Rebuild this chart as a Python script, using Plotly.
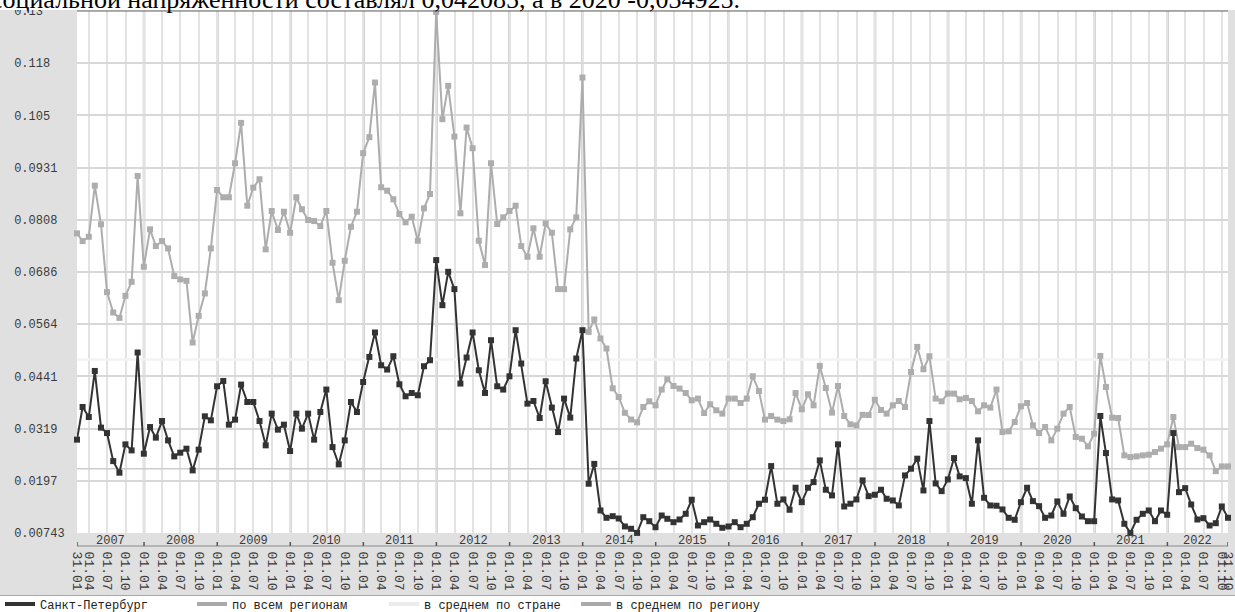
import numpy as np
import pandas as pd
import plotly.graph_objects as go

# ---------------- data ----------------
FIRST_MONTH = "2007-01-01"
N_MONTHS = 190
RANGE_START = "2007-01-31"
RANGE_END = "2022-10-31"
YEARS = list(range(2007, 2023))

SPB = [
    0.02935, 0.03701, 0.03466, 0.04548, 0.03217, 0.0309, 0.02431, 0.02159, 0.02824, 0.02683,
    0.04981, 0.02605, 0.03231, 0.02982, 0.03372, 0.02918, 0.02542, 0.02629, 0.02723, 0.02213,
    0.027, 0.03483, 0.03389, 0.04188, 0.04313, 0.03287, 0.03405, 0.04228, 0.03819, 0.03819,
    0.03372, 0.02801, 0.03546, 0.0317, 0.03287, 0.02667, 0.03546, 0.03193, 0.03546, 0.02935,
    0.03584, 0.04111, 0.0276, 0.02354, 0.02918, 0.03819, 0.03584, 0.04289, 0.04877, 0.05451,
    0.04682, 0.04581, 0.04894, 0.04235, 0.03953, 0.04031, 0.03977, 0.04659, 0.048, 0.07151,
    0.06093, 0.06876, 0.06469, 0.04252, 0.04863, 0.05451, 0.04564, 0.04031, 0.0527, 0.04188,
    0.04111, 0.04423, 0.05505, 0.04722, 0.03781, 0.03842, 0.03443, 0.04306, 0.03687, 0.03113,
    0.03899, 0.03452, 0.0484, 0.05505, 0.019, 0.02366, 0.01272, 0.011, 0.01138, 0.01084,
    0.00896, 0.00842, 0.00745, 0.01114, 0.0102, 0.00879, 0.01154, 0.01077, 0.00997, 0.0106,
    0.01194, 0.01524, 0.00919, 0.00997, 0.0106, 0.00959, 0.00865, 0.00896, 0.00997, 0.00879,
    0.00959, 0.01114, 0.0143, 0.01524, 0.02314, 0.0143, 0.01531, 0.01289, 0.01806, 0.01467,
    0.01806, 0.01938, 0.02448, 0.01759, 0.01625, 0.02824, 0.01366, 0.0143, 0.01531, 0.01978,
    0.01608, 0.01641, 0.01759, 0.01547, 0.01507, 0.0139, 0.02095, 0.02253, 0.02488, 0.01742,
    0.03372, 0.01907, 0.01726, 0.02001, 0.02502, 0.02072, 0.02032, 0.0143, 0.02918, 0.0157,
    0.0139, 0.01383, 0.01296, 0.011, 0.01053, 0.01467, 0.01806, 0.01491, 0.01373, 0.011,
    0.01154, 0.01484, 0.01194, 0.01601, 0.01326, 0.01131, 0.0102, 0.0102, 0.0349, 0.0262,
    0.01531, 0.01507, 0.00959, 0.00745, 0.01053, 0.01194, 0.01272, 0.0102, 0.01272, 0.01171,
    0.0309, 0.01702, 0.01796, 0.01413, 0.0106, 0.01091, 0.00919, 0.00973, 0.01366, 0.011,
]

REGION_AVG = [
    0.07779, 0.07598, 0.07699, 0.08899, 0.07991, 0.06399, 0.05921, 0.05794, 0.06312, 0.06641,
    0.09127, 0.06994, 0.07873, 0.07481, 0.07598, 0.07426, 0.06775, 0.06697, 0.06664, 0.05216,
    0.05841, 0.06368, 0.07426, 0.08797, 0.08626, 0.08626, 0.09425, 0.10373, 0.08428, 0.08852,
    0.09049, 0.07403, 0.08304, 0.07857, 0.08287, 0.07793, 0.08626, 0.08344, 0.08092, 0.08068,
    0.07951, 0.08304, 0.07088, 0.06211, 0.07135, 0.07934, 0.08287, 0.09661, 0.10037, 0.11321,
    0.08861, 0.08781, 0.08579, 0.08233, 0.08038, 0.0817, 0.07605, 0.08367, 0.08703, 0.1298,
    0.1046, 0.11243, 0.10051, 0.0825, 0.10263, 0.09778, 0.07605, 0.07034, 0.09425, 0.07998,
    0.08155, 0.08304, 0.08428, 0.07481, 0.07229, 0.07897, 0.07229, 0.08014, 0.07793, 0.06469,
    0.06469, 0.07873, 0.08155, 0.11438, 0.05465, 0.05757, 0.0531, 0.05075, 0.04141, 0.03937,
    0.03565, 0.03407, 0.03342, 0.03701, 0.03835, 0.03741, 0.04111, 0.04353, 0.04195, 0.04134,
    0.04031, 0.03859, 0.03899, 0.0356, 0.03765, 0.03624, 0.03546, 0.03899, 0.03899, 0.03795,
    0.03899, 0.04423, 0.04078, 0.03405, 0.0349, 0.03405, 0.03372, 0.03412, 0.04031, 0.03647,
    0.04, 0.03741, 0.04666, 0.04148, 0.0357, 0.04195, 0.0349, 0.03295, 0.03271, 0.03518,
    0.03513, 0.03871, 0.03631, 0.03546, 0.03741, 0.03842, 0.03701, 0.04524, 0.05112, 0.04588,
    0.04894, 0.03899, 0.03835, 0.04016, 0.04016, 0.03882, 0.03913, 0.03842, 0.036, 0.03741,
    0.03687, 0.04111, 0.03113, 0.0313, 0.03349, 0.03718, 0.03795, 0.03271, 0.0309, 0.03231,
    0.02918, 0.03193, 0.03546, 0.03701, 0.02996, 0.02958, 0.02777, 0.03076, 0.04901, 0.04172,
    0.03452, 0.03443, 0.02565, 0.02526, 0.02542, 0.02565, 0.02582, 0.02643, 0.02723, 0.02824,
    0.03466, 0.0276, 0.0276, 0.0284, 0.02737, 0.027, 0.02565, 0.02196, 0.02307, 0.02307,
]

ALL_REGIONS_LEVEL = 0.02253   # flat line "по всем регионам"
COUNTRY_AVG_LEVEL = 0.04816   # flat line "в среднем по стране"

Y_MIN, Y_MAX = 0.00743, 0.13
Y_TICK_LABELS = ["0.00743", "0.0197", "0.0319", "0.0441", "0.0564", "0.0686",
                 "0.0808", "0.0931", "0.105", "0.118", "0.13"]

LEGEND_NAMES = ["Санкт-Петербург", "по всем регионам", "в среднем по стране", "в среднем по региону"]
LEGEND_COLORS = ["#333333", "#aaaaaa", "#ececec", "#aaaaaa"]

TOP_TEXT = "социальной напряженности составлял 0,042085, а в 2020 -0,034925."

# ---------------- geometry helpers ----------------
W, H = 1235, 612
ML, MR, MT, MB = 77, 7, 11, 79
PW, PH = W - ML - MR, H - MT - MB


def py(px):
    return (H - MB - px) / PH


def pxx(px):
    return (px - ML) / PW


MONO = "Liberation Mono"
months = pd.date_range(FIRST_MONTH, periods=N_MONTHS, freq="MS") + pd.offsets.MonthEnd(0)
quarters = pd.date_range("2007-04-01", "2022-10-01", freq="QS")
tick_dates = [pd.Timestamp(RANGE_START)] + list(quarters) + [pd.Timestamp(RANGE_END)]
tick_text = [d.strftime("%d.%m") for d in tick_dates]

fig = go.Figure()

fig.add_trace(go.Scatter(x=months, y=[COUNTRY_AVG_LEVEL] * N_MONTHS, mode="lines",
                         line=dict(color="#f3f3f3", width=2.5), showlegend=False,
                         hoverinfo="skip"))
fig.add_trace(go.Scatter(x=months, y=[ALL_REGIONS_LEVEL] * N_MONTHS, mode="lines",
                         line=dict(color="#cccccc", width=1.5), showlegend=False,
                         hoverinfo="skip"))
fig.add_trace(go.Scatter(x=months, y=REGION_AVG, mode="lines+markers",
                         line=dict(color="#adadad", width=2),
                         marker=dict(symbol="square", size=6, color="#adadad"),
                         showlegend=False, cliponaxis=False))
fig.add_trace(go.Scatter(x=months, y=SPB, mode="lines+markers",
                         line=dict(color="#333333", width=2),
                         marker=dict(symbol="square", size=6, color="#333333"),
                         showlegend=False, cliponaxis=False))

for name, color in zip(LEGEND_NAMES, LEGEND_COLORS):
    fig.add_trace(go.Scatter(x=[None], y=[None], mode="lines", name=name,
                             line=dict(color=color, width=4)))

shapes = []
# year separator lines in the plot
for yr in YEARS[1:]:
    shapes.append(dict(type="line", xref="x", yref="paper", x0=f"{yr}-01-01", x1=f"{yr}-01-01",
                       y0=0, y1=1, line=dict(color="#b8b8b8", width=2.5), layer="between"))
# year band baseline and marks
shapes.append(dict(type="line", xref="paper", yref="paper", x0=0, x1=1, y0=py(546), y1=py(546),
                   line=dict(color="#8a8a8a", width=1), layer="above"))
for d in [RANGE_START] + [f"{yr}-01-01" for yr in YEARS[1:]] + [RANGE_END]:
    shapes.append(dict(type="line", xref="x", yref="paper", x0=d, x1=d, y0=py(546), y1=py(542),
                       line=dict(color="#555555", width=1.5), layer="above"))
# white legend strip
shapes.append(dict(type="rect", xref="paper", yref="paper", x0=pxx(0), x1=pxx(W),
                   y0=py(H), y1=py(595.5), fillcolor="white", line=dict(width=0), layer="below"))
shapes.append(dict(type="line", xref="paper", yref="paper", x0=pxx(0), x1=pxx(W),
                   y0=py(595.5), y1=py(595.5), line=dict(color="#a8a8a8", width=1), layer="below"))
# white top strip (document text) and top border
shapes.append(dict(type="rect", xref="paper", yref="paper", x0=pxx(0), x1=pxx(W),
                   y0=py(10), y1=py(0), fillcolor="white", line=dict(width=0), layer="above"))
shapes.append(dict(type="line", xref="paper", yref="paper", x0=0, x1=1, y0=1, y1=1,
                   line=dict(color="#666666", width=1), layer="above"))

annotations = []
rs, re_ = pd.Timestamp(RANGE_START), pd.Timestamp(RANGE_END)
for yr in YEARS:
    a = max(pd.Timestamp(f"{yr}-01-01"), rs)
    b = min(pd.Timestamp(f"{yr + 1}-01-01"), re_)
    c = a + (b - a) / 2
    annotations.append(dict(x=c, xref="x", y=py(540.5), yref="paper", text=str(yr),
                            showarrow=False, font=dict(family=MONO, size=12, color="#3a3a3a"),
                            xanchor="center", yanchor="middle"))
annotations.append(dict(x=pxx(-11), xref="paper", y=py(16.5), yref="paper", text=TOP_TEXT,
                        showarrow=False, xanchor="left", yanchor="bottom",
                        font=dict(family="Liberation Serif", size=26, color="black")))

y_tickvals = list(np.linspace(Y_MIN, Y_MAX, len(Y_TICK_LABELS)))
y_ticktext = [t + "\u00a0" * (7 - len(t)) for t in Y_TICK_LABELS]

fig.update_layout(
    width=W, height=H,
    margin=dict(l=ML, r=MR, t=MT, b=MB, pad=0, autoexpand=False),
    paper_bgcolor="#e0e0e0",
    plot_bgcolor="white",
    font=dict(family=MONO, size=12, color="#3a3a3a"),
    xaxis=dict(type="date", range=[RANGE_START, RANGE_END], tickmode="array",
               tickvals=tick_dates, ticktext=tick_text, tickangle=90,
               tickfont=dict(family=MONO, size=13, color="#3a3a3a"),
               ticks="outside", ticklen=15, tickcolor="rgba(0,0,0,0)",
               showgrid=True, gridcolor="#e3e3e3", gridwidth=1.5, automargin=False,
               zeroline=False, showline=False, fixedrange=True),
    yaxis=dict(range=[Y_MIN, Y_MAX], tickmode="array", tickvals=y_tickvals, ticktext=y_ticktext,
               tickfont=dict(family=MONO, size=12, color="#3a3a3a"),
               ticks="outside", ticklen=9, tickcolor="rgba(0,0,0,0)", automargin=False,
               showgrid=True, gridcolor="#d8d8d8", gridwidth=1.5,
               zeroline=False, showline=False, fixedrange=True),
    legend=dict(orientation="h", xref="container", x=-0.004, xanchor="left",
                y=py(604), yanchor="middle",
                font=dict(family=MONO, size=12, color="#222222"), bgcolor="rgba(0,0,0,0)",
                entrywidth=147, entrywidthmode="pixels", traceorder="normal",
                itemclick=False, itemdoubleclick=False),
    shapes=shapes,
    annotations=annotations,
    showlegend=True,
)

fig.write_html("out.html", config={"displayModeBar": False},
               post_script="document.body.style.margin='0px';")
